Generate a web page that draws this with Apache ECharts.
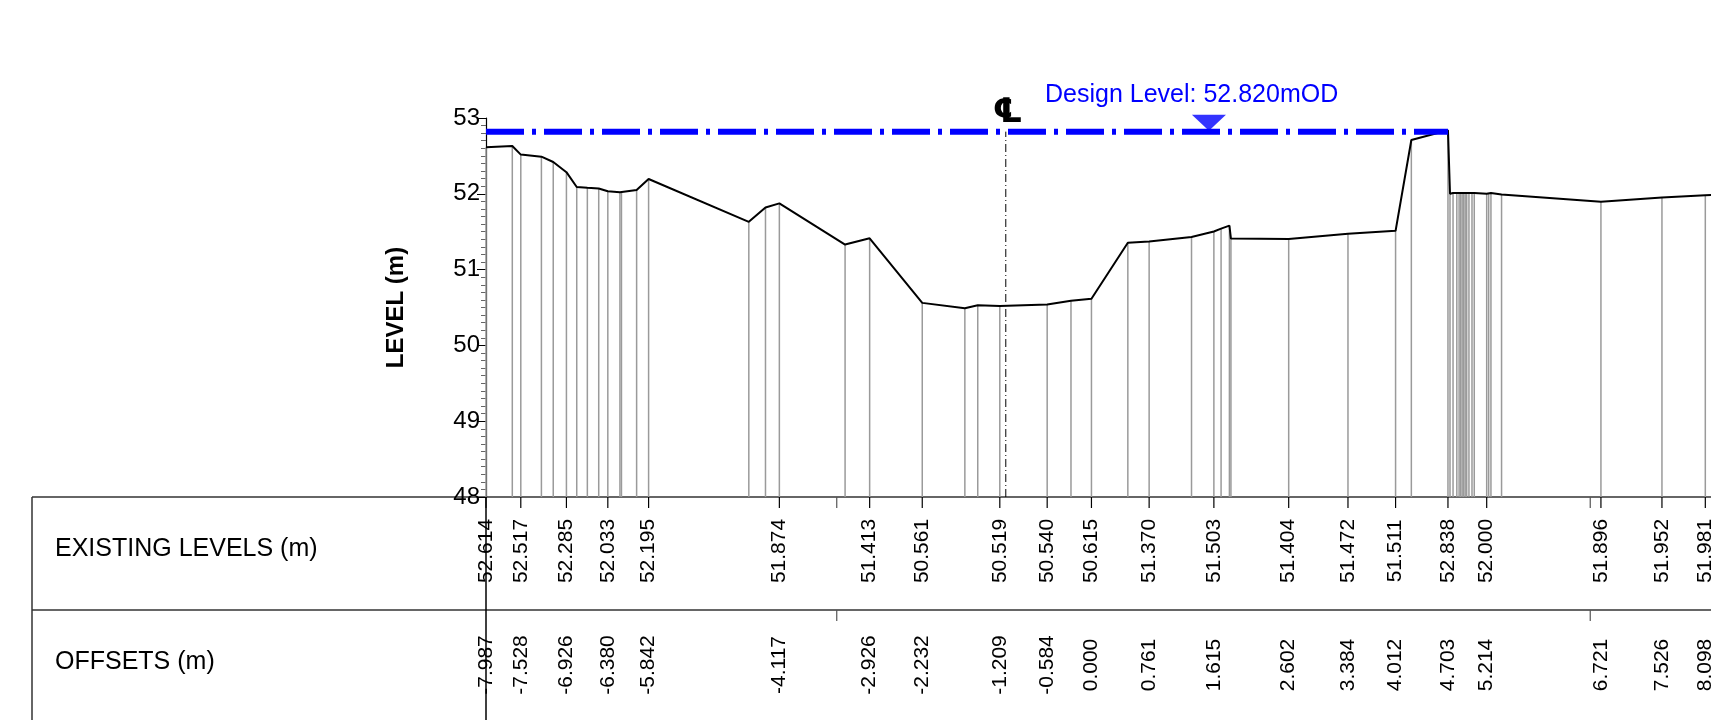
<!DOCTYPE html>
<html>
<head>
<meta charset="utf-8">
<script src="https://cdn.jsdelivr.net/npm/echarts@6/dist/echarts.min.js"></script>
<style>
  html, body { margin: 0; padding: 0; background: #fff; }
  #main { width: 1711px; height: 720px; }
</style>
</head>
<body>
<div id="main"></div>
<script>
// surveyed points along the section
const offsets = [-7.987, -7.64, -7.528, -7.256, -7.10, -6.926, -6.79, -6.65, -6.50, -6.380, -6.22, -6.20, -6.00, -5.842,
  -4.52, -4.30, -4.117, -3.25, -2.926, -2.232, -1.67, -1.50, -1.209, -0.584, -0.27, 0.000, 0.48, 0.761, 1.32, 1.615,
  1.71, 1.82, 1.84, 2.602, 3.384, 4.012, 4.22, 4.703, 4.73, 4.77, 4.82, 4.85, 4.87, 4.89, 4.91, 4.93, 4.95, 4.98,
  5.02, 5.05, 5.214, 5.24, 5.27, 5.41, 6.721, 7.526, 8.098, 8.6];
const levels = [52.614, 52.63, 52.517, 52.49, 52.42, 52.285, 52.09, 52.08, 52.07, 52.033, 52.02, 52.02, 52.05, 52.195,
  51.63, 51.82, 51.874, 51.33, 51.413, 50.561, 50.49, 50.53, 50.519, 50.540, 50.59, 50.615, 51.355, 51.370, 51.43, 51.503,
  51.54, 51.58, 51.41, 51.404, 51.472, 51.511, 52.71, 52.838, 52.00, 52.01, 52.01, 52.01, 52.01, 52.01, 52.01, 52.01, 52.01, 52.01,
  52.01, 52.01, 52.000, 52.01, 52.01, 51.99, 51.896, 51.952, 51.981, 52.00];

// annotated points in the table
const labelOffsets = [-7.987, -7.528, -6.926, -6.380, -5.842, -4.117, -2.926, -2.232, -1.209, -0.584, 0.000,
  0.761, 1.615, 2.602, 3.384, 4.012, 4.703, 5.214, 6.721, 7.526, 8.098];
const labelOffsetText = ['-7.987', '-7.528', '-6.926', '-6.380', '-5.842', '-4.117', '-2.926', '-2.232', '-1.209', '-0.584', '0.000',
  '0.761', '1.615', '2.602', '3.384', '4.012', '4.703', '5.214', '6.721', '7.526', '8.098'];
const labelLevelText = ['52.614', '52.517', '52.285', '52.033', '52.195', '51.874', '51.413', '50.561', '50.519', '50.540', '50.615',
  '51.370', '51.503', '51.404', '51.472', '51.511', '52.838', '52.000', '51.896', '51.952', '51.981'];
const markerOffsets = [-3.36, 6.58];

const designLevel = 52.82;
const designEnd = 4.703;
const designMarkX = 1.55;
const centreLine = -1.13;
const yMin = 48, yMax = 53;

const font = 'Liberation Sans, Arial, sans-serif';
const chart = echarts.init(document.getElementById('main'));

const option = {
  animation: false,
  textStyle: { fontFamily: font },
  grid: { left: 486, right: 0, top: 118, bottom: 223 },
  xAxis: { type: 'value', min: -7.987, max: 8.173, show: false },
  yAxis: {
    type: 'value', min: yMin, max: yMax, interval: 1,
    name: 'LEVEL (m)', nameLocation: 'middle', nameGap: 78, nameRotate: 90,
    nameTextStyle: { fontSize: 24, fontWeight: 'bold', color: '#000', fontFamily: font },
    axisLine: { show: true, onZero: false, lineStyle: { color: '#000', width: 1.2 } },
    axisTick: { show: true, length: 9, lineStyle: { color: '#000' } },
    minorTick: { show: true, splitNumber: 10, length: 5, lineStyle: { color: '#666' } },
    axisLabel: { fontSize: 24, color: '#000', margin: 6 },
    splitLine: { show: false }
  },
  graphic: [
    { type: 'line', shape: { x1: 32, y1: 497, x2: 1711, y2: 497 }, style: { stroke: '#333', lineWidth: 1.5 } },
    { type: 'line', shape: { x1: 32, y1: 610, x2: 1711, y2: 610 }, style: { stroke: '#333', lineWidth: 1.5 } },
    { type: 'line', shape: { x1: 32, y1: 497, x2: 32, y2: 720 }, style: { stroke: '#333', lineWidth: 1.5 } },
    { type: 'line', shape: { x1: 486, y1: 497, x2: 486, y2: 720 }, style: { stroke: '#000', lineWidth: 1.5 } },
    { type: 'text', left: 55, top: 537, style: { text: 'EXISTING LEVELS (m)', fontSize: 25, fill: '#000', fontFamily: font } },
    { type: 'text', left: 55, top: 650, style: { text: 'OFFSETS (m)', fontSize: 25, fill: '#000', fontFamily: font } },
    { type: 'text', left: 1045, top: 83, style: { text: 'Design Level: 52.820mOD', fontSize: 25, fill: '#0000ff', fontFamily: font } }
  ],
  series: [
    {
      // grey stems from each surveyed point to the datum
      type: 'custom',
      data: offsets.map((o, i) => [o, levels[i]]),
      renderItem: (params, api) => {
        const top = api.coord([api.value(0), api.value(1)]);
        const bot = api.coord([api.value(0), yMin]);
        return { type: 'line', shape: { x1: top[0], y1: top[1], x2: bot[0], y2: bot[1] },
          style: { stroke: '#9a9a9a', lineWidth: 1.5 } };
      },
      z: 1
    },
    {
      type: 'line',
      data: offsets.map((o, i) => [o, levels[i]]),
      showSymbol: false,
      lineStyle: { color: '#000', width: 2 },
      z: 3
    },
    {
      // centre line
      type: 'line',
      data: [[centreLine, yMin], [centreLine, designLevel]],
      showSymbol: false,
      lineStyle: { color: '#000', width: 1, type: [8, 3, 1, 3] },
      z: 2
    },
    {
      type: 'line',
      data: [[-7.987, designLevel], [designEnd, designLevel]],
      showSymbol: false,
      lineStyle: { color: '#0000ff', width: 6, type: [38, 8, 4, 8] },
      z: 4
    },
    {
      type: 'scatter',
      data: [[designMarkX, designLevel]],
      symbol: 'triangle', symbolRotate: 180, symbolSize: [34, 16], symbolOffset: [0, -9],
      itemStyle: { color: '#0000ff' },
      z: 5
    },
    {
      // centre line symbol
      type: 'custom',
      data: [[centreLine, designLevel]],
      clip: false,
      renderItem: (params, api) => {
        const p = api.coord([api.value(0), api.value(1)]);
        return { type: 'text', x: p[0] + 2, y: p[1] - 18,
          style: { text: '\u2104', fontSize: 34, fontWeight: 'bold', fill: '#000', align: 'center', verticalAlign: 'middle', fontFamily: 'DejaVu Sans' } };
      }
    },
    {
      // table labels and ticks
      type: 'custom',
      data: labelOffsets.map((o, i) => [o, i]),
      clip: false,
      renderItem: (params, api) => {
        const i = api.value(1);
        const p = api.coord([api.value(0), yMin]);
        return {
          type: 'group',
          children: [
            { type: 'line', shape: { x1: p[0], y1: p[1], x2: p[0], y2: p[1] + 11 }, style: { stroke: '#000', lineWidth: 1.2 } },
            { type: 'text', x: p[0], y: 551, rotation: Math.PI / 2,
              style: { text: labelLevelText[i], fontSize: 21, fill: '#000', align: 'center', verticalAlign: 'middle', fontFamily: font } },
            { type: 'text', x: p[0], y: 665, rotation: Math.PI / 2,
              style: { text: labelOffsetText[i], fontSize: 21, fill: '#000', align: 'center', verticalAlign: 'middle', fontFamily: font } }
          ]
        };
      }
    },
    {
      type: 'custom',
      data: markerOffsets.map(o => [o]),
      clip: false,
      renderItem: (params, api) => {
        const p = api.coord([api.value(0), yMin]);
        return {
          type: 'group',
          children: [
            { type: 'line', shape: { x1: p[0], y1: p[1], x2: p[0], y2: p[1] + 11 }, style: { stroke: '#555', lineWidth: 1.2 } },
            { type: 'line', shape: { x1: p[0], y1: 610, x2: p[0], y2: 621 }, style: { stroke: '#555', lineWidth: 1.2 } }
          ]
        };
      }
    }
  ]
};

chart.setOption(option);
</script>
</body>
</html>
